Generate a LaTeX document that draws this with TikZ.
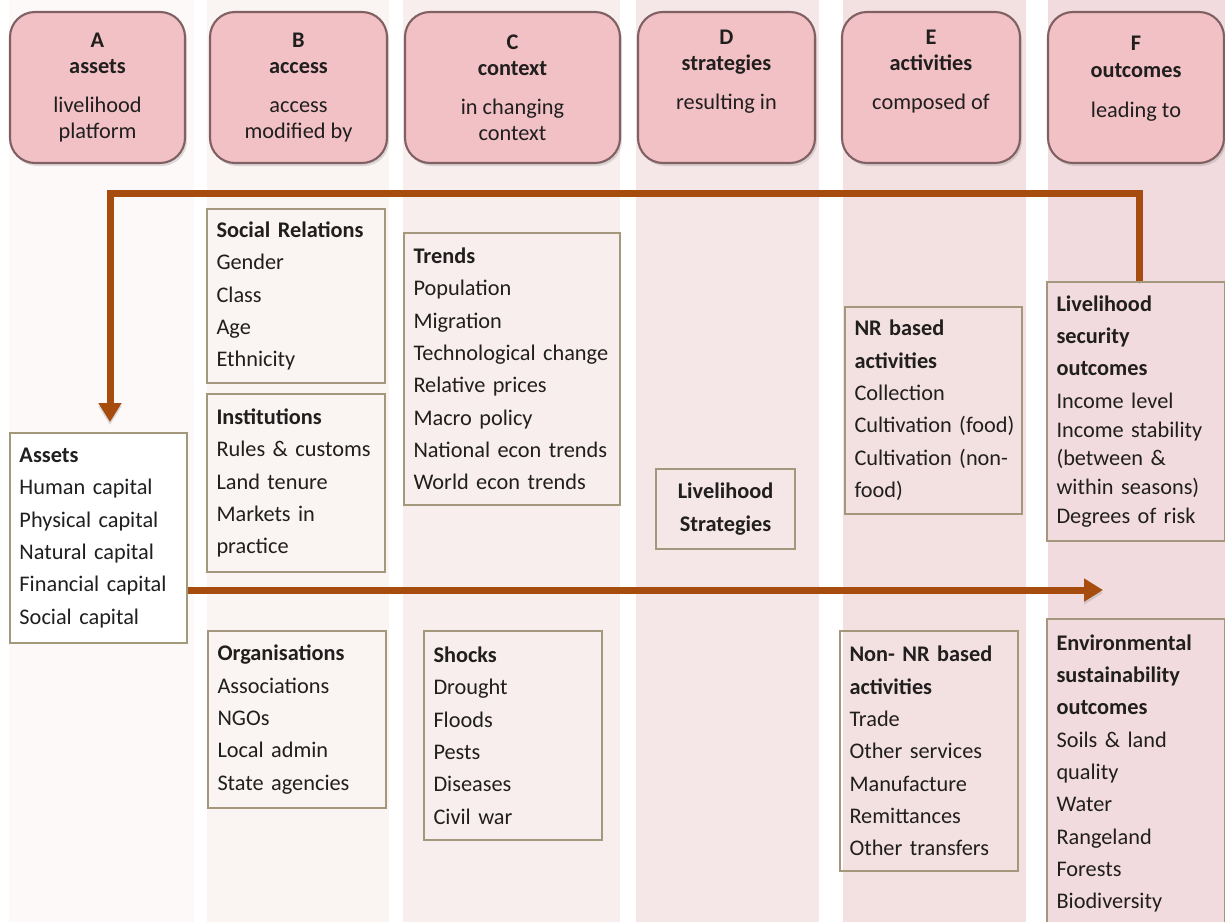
\documentclass[tikz,border=0pt]{standalone}
\usepackage{fontspec}
\setmainfont{Carlito}
\usetikzlibrary{arrows.meta,shadows}

\definecolor{colA}{RGB}{253,249,248}
\definecolor{colB}{RGB}{250,244,243}
\definecolor{colC}{RGB}{248,238,238}
\definecolor{colD}{RGB}{245,230,231}
\definecolor{colE}{RGB}{243,225,226}
\definecolor{colF}{RGB}{241,219,222}
\definecolor{hdrpink}{RGB}{241,193,197}
\definecolor{hdrline}{RGB}{128,96,98}
\definecolor{boxline}{RGB}{163,152,124}
\definecolor{flowbrown}{RGB}{166,76,14}
\definecolor{inktext}{RGB}{33,30,30}

\tikzset{
  header/.style={draw=hdrline, line width=1.2pt, fill=hdrpink, rounded corners=0.5cm,
    minimum height=3.02cm, align=center, text=inktext,
    font=\fontsize{12.7}{15}\selectfont,
    drop shadow={opacity=0.25, shadow xshift=0.04cm, shadow yshift=-0.06cm}},
  infobox/.style={draw=boxline, line width=1.1pt, align=left, inner xsep=0.19cm,
    text=inktext, font=\fontsize{12.7}{18.4}\selectfont},
  flow/.style={draw=flowbrown, line width=0.14cm,
    -{Triangle[width=0.44cm,length=0.38cm]},
    preaction={draw=black!45, opacity=0.3, transform canvas={yshift=-0.06cm}}},
}

\begin{document}
\begin{tikzpicture}
  \useasboundingbox (0,0) rectangle (24.5,-18.44);

  % column backgrounds
  \fill[colA] (0.18,0) rectangle (3.88,-18.44);
  \fill[colB] (4.14,0) rectangle (7.78,-18.44);
  \fill[colC] (8.06,0) rectangle (12.4,-18.44);
  \fill[colD] (12.72,0) rectangle (16.38,-18.44);
  \fill[colE] (16.86,0) rectangle (20.52,-18.44);
  \fill[colF] (20.96,0) rectangle (24.5,-18.44);

  % headers
  \node[header, minimum width=3.5cm] (hdrA) at (1.95,-1.75) {\textbf{A}\\\textbf{assets}\\[7pt]livelihood\\platform};
  \node[header, minimum width=3.54cm] (hdrB) at (5.97,-1.75) {\textbf{B}\\\textbf{access}\\[7pt]access\\modified by};
  \node[header, minimum width=4.3cm] (hdrC) at (10.25,-1.75) {\textbf{C}\\\textbf{context}\\[7pt]in changing\\context};
  \node[header, minimum width=3.54cm] (hdrD) at (14.53,-1.75) {\textbf{D}\\\textbf{strategies}\\[7pt]resulting in\\[3pt]\phantom{p}};
  \node[header, minimum width=3.56cm] (hdrE) at (18.62,-1.75) {\textbf{E}\\\textbf{activities}\\[7pt]composed of\\[3pt]\phantom{p}};
  \node[header, minimum width=3.52cm] (hdrF) at (22.72,-1.75) {\textbf{F}\\\textbf{outcomes}\\[8pt]leading to\\[-5pt]\phantom{p}};

  % boxes
  \node[infobox, text width=3.16cm, minimum height=4.2cm, fill=white] (assets) at (1.97,-10.76)
    {\textbf{Assets}\\Human capital\\Physical capital\\Natural capital\\Financial~capital\\Social capital};
  \node[infobox, text width=3.18cm, minimum height=3.48cm] (socrel) at (5.92,-5.92)
    {\textbf{Social~Relations}\\Gender\\Class\\Age\\Ethnicity};
  \node[infobox, text width=3.18cm, minimum height=3.56cm] (inst) at (5.92,-9.66)
    {\textbf{Institutions}\\Rules~\&~customs\\Land tenure\\Markets in\\practice};
  \node[infobox, text width=3.18cm, minimum height=3.54cm] (orgs) at (5.94,-14.39)
    {\textbf{Organisations}\\Associations\\NGOs\\Local admin\\State~agencies};
  \node[infobox, text width=3.94cm, minimum height=5.44cm] (trends) at (10.24,-7.38)
    {\textbf{Trends}\\Population\\Migration\\Technological~change\\Relative prices\\Macro policy\\National~econ~trends\\World econ trends};
  \node[infobox, text width=3.18cm, minimum height=4.18cm] (shocks) at (10.26,-14.71)
    {\textbf{Shocks}\\Drought\\Floods\\Pests\\Diseases\\Civil war};
  \node[infobox, align=center, text width=2.4cm, minimum height=1.6cm] (strat) at (14.51,-10.18)
    {\textbf{Livelihood}\\\textbf{Strategies}};
  \node[infobox, text width=3.16cm, minimum height=4.14cm] (nrbased) at (18.67,-8.21)
    {\textbf{NR based}\\\textbf{activities}\\Collection\\Cultivation~(food)\\Cultivation~(non-\\food)};
  \node[infobox, text width=3.18cm, minimum height=4.8cm] (nonnr) at (18.58,-15.02)
    {\textbf{Non-~NR~based}\\\textbf{activities}\\Trade\\Other services\\Manufacture\\Remittances\\Other~transfers};
  \node[infobox, text width=3.18cm, minimum height=5.18cm] (secout) at (22.72,-8.23)
    {\textbf{Livelihood}\\\textbf{security}\\\textbf{outcomes}\\Income level\\[-2pt]Income~stability\\[-2pt](between~\&\\[-2pt]within~seasons)\\[-2pt]Degrees~of~risk};
  \node[infobox, text width=3.18cm, minimum height=6.18cm] (envout) at (22.72,-15.47)
    {\textbf{Environmental}\\\textbf{sustainability}\\\textbf{outcomes}\\Soils \& land\\quality\\Water\\Rangeland\\Forests\\Biodiversity};

  % arrows
  \coordinate (looptop) at (0,-3.86);
  \coordinate (flowend) at (22.06,-11.8);
  \draw[flow] ([xshift=0.06cm]secout.north) -- ([xshift=0.06cm]secout.north |- looptop)
    -| ([xshift=0.23cm,yshift=0.2cm]assets.north);
  \draw[flow] (assets.east |- flowend) -- (flowend);
\end{tikzpicture}
\end{document}
